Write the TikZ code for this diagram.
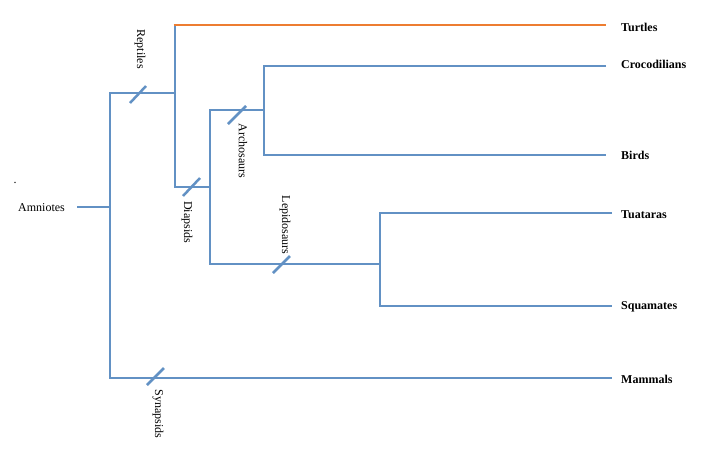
\documentclass[tikz,border=0pt]{standalone}
\usepackage{fontspec}
\setmainfont{Liberation Serif}
\begin{document}
\begin{tikzpicture}[x=1pt,y=-1pt,
  br/.style={draw=blueline,line width=2.8pt,line join=miter},
  tu/.style={draw=orangeline,line width=2.8pt},
  tick/.style={draw=blueline,line width=2.5pt},
  leaf/.style={anchor=west,inner sep=0pt,font=\fontsize{12}{14}\selectfont\bfseries},
  clade/.style={rotate=-90,inner sep=0pt,font=\fontsize{12}{14}\selectfont},
]
\definecolor{blueline}{RGB}{98,145,196}
\definecolor{orangeline}{RGB}{237,125,49}
\useasboundingbox (0,0) rectangle (701,461);
% junction coordinates
\coordinate (rootL) at (77,207);
\coordinate (amT) at (110,93);
\coordinate (amM) at (110,207);
\coordinate (amB) at (110,378);
\coordinate (reT) at (175,25);
\coordinate (reM) at (175,93);
\coordinate (reB) at (175,187);
\coordinate (diT) at (210,110);
\coordinate (diM) at (210,187);
\coordinate (diB) at (210,264);
\coordinate (arT) at (264,66);
\coordinate (arM) at (264,110);
\coordinate (arB) at (264,155);
\coordinate (leT) at (380,213);
\coordinate (leM) at (380,264);
\coordinate (leB) at (380,306);
\coordinate (tuE) at (606,25);
\coordinate (crE) at (606,66);
\coordinate (biE) at (606,155);
\coordinate (taE) at (612,213);
\coordinate (sqE) at (612,306);
\coordinate (maE) at (612,378);
% leaf labels
\node[leaf] (turtles) at (621,27) {Turtles};
\node[leaf] (croc) at (621,64) {Crocodilians};
\node[leaf] (birds) at (621,155) {Birds};
\node[leaf] (tuat) at (621,215) {Tuataras};
\node[leaf] (squam) at (621,307) {Squamates};
\node[leaf] (mamm) at (621,379) {Mammals};
\node[anchor=west,inner sep=0pt,font=\fontsize{12}{14}\selectfont] (amn) at (18,208) {Amniotes};
\node[inner sep=0pt,font=\fontsize{12}{14}\selectfont] (dot) at (15,183) {.};
% clade labels
\node[clade] (rep) at (140,49) {Reptiles};
\node[clade] (arc) at (243,151) {Archosaurs};
\node[clade] (dia) at (187,222) {Diapsids};
\node[clade] (lep) at (285,225) {Lepidosaurs};
\node[clade] (syn) at (158,414) {Synapsids};
% branches
\draw[br] (rootL) -- (amM);
\draw[br] (reM) -- (amT) -- (amB) -- (maE);
\draw[br] (reB) -- (reT);
\draw[br] (reM) -- (reB) -- (diM);
\draw[br] (arM) -- (diT) -- (diB) -- (leM);
\draw[br] (crE) -- (arT) -- (arB) -- (biE);
\draw[br] (taE) -- (leT) -- (leB) -- (sqE);
\draw[tu] ([xshift=-1.4pt]reT) -- (tuE);
% ticks
\coordinate (t1a) at (130,103); \coordinate (t1b) at (146,86);
\coordinate (t2a) at (183,196); \coordinate (t2b) at (200,178);
\coordinate (t3a) at (228,124); \coordinate (t3b) at (246,106);
\coordinate (t4a) at (273,273); \coordinate (t4b) at (290,256);
\coordinate (t5a) at (147,385); \coordinate (t5b) at (164,368);
\draw[tick] (t1a) -- (t1b);
\draw[tick] (t2a) -- (t2b);
\draw[tick] (t3a) -- (t3b);
\draw[tick] (t4a) -- (t4b);
\draw[tick] (t5a) -- (t5b);
\end{tikzpicture}
\end{document}
